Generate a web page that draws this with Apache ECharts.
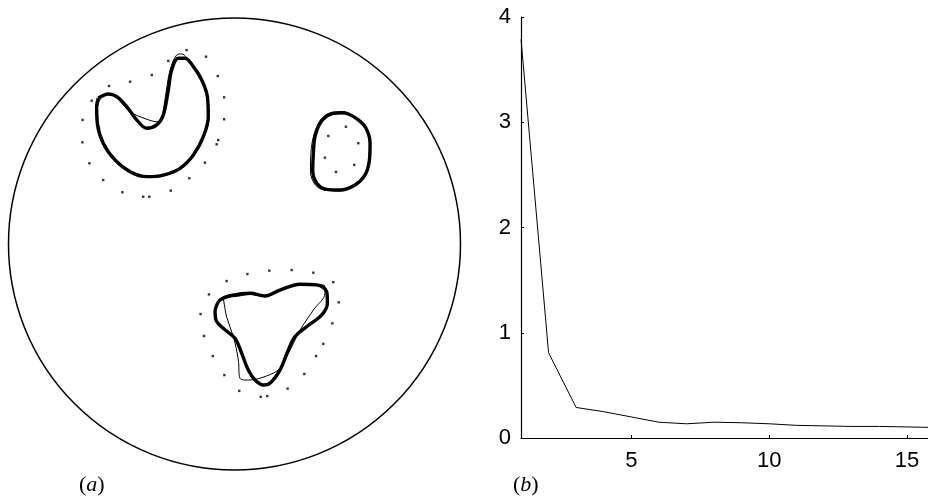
<!DOCTYPE html>
<html>
<head>
<meta charset="utf-8">
<style>
  html, body { margin: 0; padding: 0; background: #ffffff; }
  #chart { width: 928px; height: 500px; }
</style>
<script src="https://cdn.jsdelivr.net/npm/echarts@6/dist/echarts.min.js"></script>
</head>
<body>
<div id="chart"></div>
<script>
// ---- Panel (a): inclusions inside the unit disk, coordinates in disk units ----
// Upper-left crescent
const crescentRecon = [[-0.603,0.645],[-0.558,0.664],[-0.521,0.652],[-0.477,0.608],[-0.433,0.549],[-0.388,0.512],[-0.344,0.527],[-0.315,0.571],[-0.293,0.681],[-0.278,0.770],[-0.249,0.822],[-0.219,0.822],[-0.182,0.785],[-0.145,0.726],[-0.120,0.652],[-0.116,0.563],[-0.138,0.475],[-0.182,0.394],[-0.241,0.335],[-0.315,0.305],[-0.388,0.298],[-0.462,0.320],[-0.529,0.372],[-0.581,0.446],[-0.607,0.534],[-0.610,0.608],[-0.603,0.645]];
const crescentTrue = [[-0.588,0.652],[-0.551,0.662],[-0.462,0.585],[-0.396,0.555],[-0.344,0.541],[-0.322,0.563],[-0.308,0.637],[-0.285,0.770],[-0.256,0.836],[-0.234,0.841],[-0.212,0.826],[-0.175,0.779],[-0.139,0.712],[-0.116,0.637],[-0.113,0.558],[-0.135,0.473],[-0.179,0.392],[-0.241,0.332],[-0.316,0.301],[-0.387,0.294],[-0.462,0.316],[-0.527,0.367],[-0.577,0.442],[-0.604,0.531],[-0.606,0.606],[-0.588,0.652]];
const crescentStart = [[-0.212,0.858],[-0.126,0.829],[-0.074,0.743],[-0.046,0.649],[-0.046,0.552],[-0.072,0.460],[-0.079,0.441],[-0.131,0.360],[-0.200,0.291],[-0.282,0.236],[-0.377,0.209],[-0.404,0.209],[-0.496,0.229],[-0.581,0.283],[-0.642,0.357],[-0.673,0.450],[-0.672,0.549],[-0.632,0.634],[-0.555,0.699],[-0.462,0.718],[-0.366,0.748],[-0.293,0.810]];

// Upper-right oval
const ovalRecon = [[0.437,0.578],[0.474,0.581],[0.504,0.575],[0.548,0.549],[0.582,0.512],[0.600,0.446],[0.596,0.364],[0.577,0.305],[0.533,0.261],[0.467,0.239],[0.408,0.242],[0.364,0.269],[0.346,0.327],[0.349,0.401],[0.356,0.475],[0.378,0.534],[0.408,0.566],[0.437,0.578]];
const ovalTrue = [[0.436,0.584],[0.476,0.586],[0.508,0.575],[0.551,0.546],[0.584,0.504],[0.597,0.438],[0.593,0.363],[0.573,0.301],[0.529,0.257],[0.467,0.235],[0.405,0.237],[0.358,0.261],[0.336,0.323],[0.338,0.403],[0.350,0.478],[0.374,0.538],[0.403,0.571],[0.436,0.584]];
const ovalStart = [[0.493,0.519],[0.548,0.446],[0.530,0.350],[0.449,0.319],[0.400,0.382],[0.415,0.478]];

// Lower triangular inclusion
const triRecon = [[-0.086,-0.292],[-0.064,-0.248],[-0.005,-0.226],[0.069,-0.218],[0.135,-0.230],[0.201,-0.204],[0.290,-0.178],[0.364,-0.181],[0.408,-0.211],[0.411,-0.262],[0.386,-0.314],[0.319,-0.366],[0.268,-0.410],[0.238,-0.469],[0.201,-0.558],[0.157,-0.616],[0.127,-0.624],[0.091,-0.602],[0.061,-0.558],[0.032,-0.484],[0.002,-0.417],[-0.050,-0.373],[-0.082,-0.336],[-0.086,-0.292]];
const triTrue = [[-0.050,-0.233],[-0.035,-0.322],[-0.005,-0.410],[0.017,-0.513],[0.024,-0.594],[0.061,-0.602],[0.142,-0.584],[0.201,-0.550],[0.246,-0.469],[0.290,-0.381],[0.349,-0.292],[0.400,-0.218],[0.400,-0.186],[0.364,-0.180],[0.290,-0.181],[0.201,-0.207],[0.135,-0.233],[0.069,-0.223],[-0.005,-0.233],[-0.050,-0.233]];
const triStart = [[-0.035,-0.164],[0.057,-0.133],[0.154,-0.118],[0.253,-0.115],[0.349,-0.127],[0.437,-0.169],[0.461,-0.258],[0.433,-0.351],[0.393,-0.442],[0.361,-0.496],[0.309,-0.575],[0.235,-0.640],[0.145,-0.673],[0.116,-0.676],[0.021,-0.650],[-0.045,-0.580],[-0.096,-0.496],[-0.135,-0.407],[-0.150,-0.310],[-0.113,-0.223]];

// ---- Panel (b): value against iteration ----
const iterations = [1,2,3,4,5,6,7,8,9,10,11,12,13,14,15,16];
const residual   = [3.79,0.81,0.29,0.25,0.20,0.15,0.135,0.15,0.145,0.135,0.12,0.115,0.11,0.11,0.105,0.10];
const xTickValues = [5,10,15];

const chart = echarts.init(document.getElementById('chart'), null, { renderer: 'canvas' });

const INK = '#000000';
const sansFont = '"Liberation Sans", Arial, Helvetica, sans-serif';
const serifFont = '"Liberation Serif", "Times New Roman", serif';

function curve(data, width) {
  return {
    type: 'line', xAxisIndex: 0, yAxisIndex: 0, data: data,
    showSymbol: false, symbol: 'none', smooth: 0.35, silent: true,
    lineStyle: { color: INK, width: width }, z: 3
  };
}
function dots(data) {
  return {
    type: 'scatter', xAxisIndex: 0, yAxisIndex: 0, data: data,
    symbol: 'rect', symbolSize: 2.4, itemStyle: { color: INK }, silent: true, z: 4
  };
}
function panelTag(letter, left) {
  return {
    type: 'text', left: left, top: 474,
    style: {
      text: '({i|' + letter + '})',
      fontSize: 22,
      fontFamily: serifFont,
      fill: INK,
      rich: { i: { fontStyle: 'italic', fontSize: 22, fontFamily: serifFont, fill: INK } }
    }
  };
}

const panelPairs = iterations.map((it, i) => [it, residual[i]]);

chart.setOption({
  backgroundColor: '#ffffff',
  animation: false,
  polar: { center: [234.5, 244], radius: 226 },
  angleAxis: {
    type: 'value', min: 0, max: 360, polarIndex: 0,
    axisLine: { show: true, lineStyle: { color: INK, width: 1.5 } },
    axisTick: { show: false }, axisLabel: { show: false }, splitLine: { show: false }
  },
  radiusAxis: {
    type: 'value', min: 0, max: 1, polarIndex: 0,
    axisLine: { show: false }, axisTick: { show: false }, axisLabel: { show: false }, splitLine: { show: false }
  },
  grid: [
    { left: 8.5, top: 18, width: 452, height: 452 },
    { left: 521, top: 17, right: 0, bottom: 62 }
  ],
  xAxis: [
    { gridIndex: 0, type: 'value', min: -1, max: 1, show: false },
    {
      gridIndex: 1, type: 'value', min: 1, max: 15.76,
      axisLine: { show: true, lineStyle: { color: INK, width: 1.2 } },
      axisTick: { show: true, inside: true, length: 3, customValues: xTickValues, lineStyle: { color: INK } },
      axisLabel: { customValues: xTickValues, color: INK, fontSize: 22, fontFamily: sansFont, margin: 12 },
      splitLine: { show: false }
    }
  ],
  yAxis: [
    { gridIndex: 0, type: 'value', min: -1, max: 1, show: false },
    {
      gridIndex: 1, type: 'value', min: 0, max: 4, interval: 1,
      axisLine: { show: true, lineStyle: { color: INK, width: 1.2 } },
      axisTick: { show: true, inside: true, length: 3, lineStyle: { color: INK } },
      axisLabel: { color: INK, fontSize: 22, fontFamily: sansFont, margin: 10 },
      splitLine: { show: false }
    }
  ],
  series: [
    curve(crescentTrue, 1), curve(crescentRecon, 3.4), dots(crescentStart),
    curve(ovalTrue, 1), curve(ovalRecon, 3.4), dots(ovalStart),
    curve(triTrue, 1), curve(triRecon, 3.4), dots(triStart),
    {
      type: 'line', xAxisIndex: 1, yAxisIndex: 1, data: panelPairs,
      showSymbol: false, symbol: 'none', clip: true, silent: true,
      lineStyle: { color: INK, width: 1 }
    }
  ],
  graphic: [panelTag('a', 79), panelTag('b', 513)]
});
</script>
</body>
</html>
